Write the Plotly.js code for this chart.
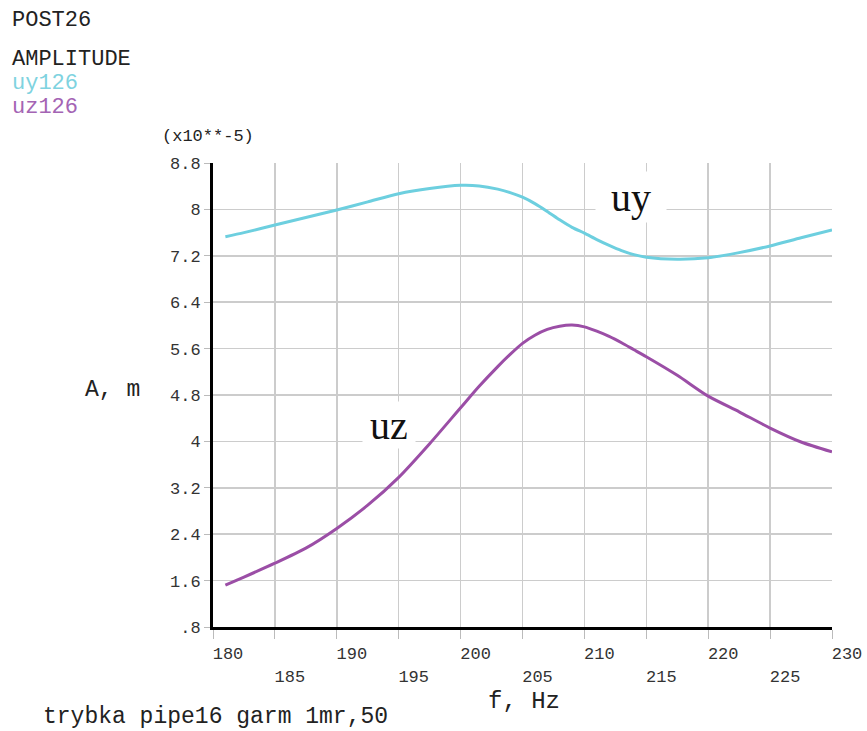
<!DOCTYPE html>
<html><head><meta charset="utf-8">
<script src="https://cdn.plot.ly/plotly-3.0.1.min.js"></script>
<style>body{margin:0;background:#fff}#chart{width:867px;height:731px}</style>
</head><body><div id="chart"></div>
<script>
// Frequency, Hz
const freq = [181, 182.5, 185, 187.5, 190, 192.5, 195, 197.5, 200, 201.5, 203, 204, 205, 206, 207, 208, 209, 210, 211, 212, 213, 214, 215, 217.5, 220, 222.5, 225, 227.5, 230];
// Amplitudes, x10**-5 m
const uy126 = [7.53, 7.60, 7.73, 7.86, 7.99, 8.13, 8.27, 8.36, 8.415, 8.405, 8.35, 8.29, 8.21, 8.10, 7.965, 7.82, 7.69, 7.59, 7.48, 7.38, 7.29, 7.22, 7.175, 7.14, 7.165, 7.255, 7.37, 7.51, 7.645];
const uz126 = [1.52, 1.66, 1.90, 2.16, 2.50, 2.90, 3.38, 3.96, 4.58, 4.95, 5.29, 5.50, 5.69, 5.83, 5.93, 5.985, 6.005, 5.975, 5.90, 5.81, 5.70, 5.58, 5.46, 5.14, 4.78, 4.51, 4.23, 3.99, 3.82];

const xTickVals = [180, 185, 190, 195, 200, 205, 210, 215, 220, 225, 230];
const xTickText = ['180', '<br>185', '190', '<br>195', '200', '<br>205', '210', '<br>215', '220', '<br>225', '230'];
const yTickVals = [0.8, 1.6, 2.4, 3.2, 4.0, 4.8, 5.6, 6.4, 7.2, 8.0, 8.8];
const yTickText = ['.8', '1.6', '2.4', '3.2', '4', '4.8', '5.6', '6.4', '7.2', '8', '8.8'];

const cyan = '#6dcfdf';
const purple = '#9b4ea6';
const mono = 'Liberation Mono, monospace';
const serif = 'Liberation Serif, Times New Roman, serif';

const L = 213, R = 35, T = 163, B = 104, W = 867, H = 731;
const pw = W - L - R, ph = H - T - B;
const px = x => (x - L) / pw;
const py = y => (H - B - y) / ph;

const traces = [
  {x: freq, y: uy126, type: 'scatter', mode: 'lines', name: 'uy126',
   line: {color: cyan, width: 3, shape: 'spline', smoothing: 0.7}},
  {x: freq, y: uz126, type: 'scatter', mode: 'lines', name: 'uz126',
   line: {color: purple, width: 3, shape: 'spline', smoothing: 0.7}}
];

const txt = (text, x, y, opts) => Object.assign({
  text, xref: 'paper', yref: 'paper', x: px(x), y: py(y),
  xanchor: 'left', yanchor: 'middle', showarrow: false,
  font: {family: mono, size: 22, color: '#222'}
}, opts || {});

const layout = {
  width: W, height: H,
  margin: {l: L, r: R, t: T, b: B},
  paper_bgcolor: '#fff', plot_bgcolor: '#fff',
  showlegend: false,
  xaxis: {
    range: [180, 230], tickmode: 'array', tickvals: xTickVals, ticktext: xTickText,
    showgrid: true, gridcolor: '#cccccc', gridwidth: 1.5,
    showline: true, linecolor: '#000', linewidth: 3, mirror: false,
    ticks: 'outside', ticklen: 9, tickcolor: '#bbbbbb', tickwidth: 1,
    ticklabelshift: 15,
    tickfont: {family: mono, size: 17, color: '#333'},
    zeroline: false, fixedrange: true
  },
  yaxis: {
    range: [0.8, 8.8], tickmode: 'array', tickvals: yTickVals, ticktext: yTickText,
    showgrid: true, gridcolor: '#cccccc', gridwidth: 1.5,
    showline: true, linecolor: '#000', linewidth: 3, mirror: false,
    ticks: 'outside', ticklen: 6, tickcolor: '#bbbbbb', tickwidth: 1,
    tickfont: {family: mono, size: 17, color: '#333'},
    zeroline: false, fixedrange: true
  },
  annotations: [
    txt('POST26', 10, 20),
    txt('AMPLITUDE', 10, 59),
    txt('uy126', 10, 83, {font: {family: mono, size: 22, color: '#7fd3e0'}}),
    txt('uz126', 10, 107, {font: {family: mono, size: 22, color: '#a464b4'}}),
    txt('(x10**-5)', 160, 137, {font: {family: mono, size: 17, color: '#222'}}),
    txt('A, m', 83, 390, {font: {family: mono, size: 23, color: '#222'}}),
    txt('f, Hz', 486, 701, {font: {family: mono, size: 24, color: '#222'}}),
    txt('trybka pipe16 garm 1mr,50', 41, 717, {font: {family: mono, size: 23, color: '#222'}}),
    {text: 'uy', xref: 'x', yref: 'y', x: 213.8, y: 8.22, showarrow: false,
     xanchor: 'center', yanchor: 'middle', bgcolor: '#fff', width: 68, height: 48,
     font: {family: serif, size: 40, color: '#111'}},
    {text: 'uz', xref: 'x', yref: 'y', x: 194.2, y: 4.28, showarrow: false,
     xanchor: 'center', yanchor: 'middle', bgcolor: '#fff', width: 50, height: 44,
     font: {family: serif, size: 40, color: '#111'}}
  ]
};

Plotly.newPlot('chart', traces, layout, {displayModeBar: false, staticPlot: true});
</script>
</body></html>
